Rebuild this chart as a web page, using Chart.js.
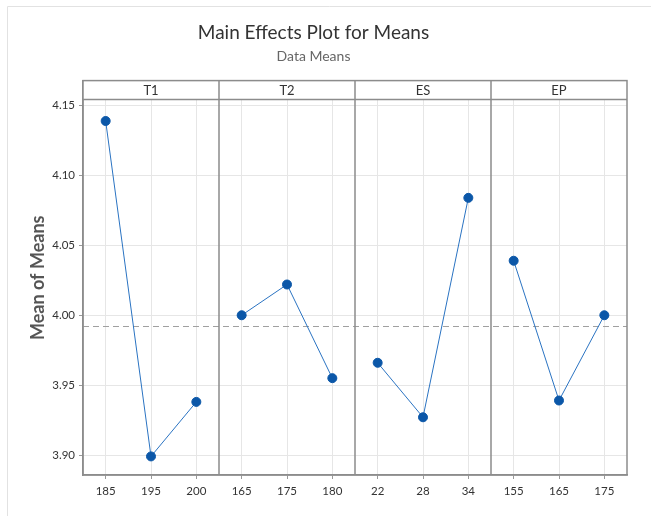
<!DOCTYPE html>
<html>
<head>
<meta charset="utf-8">
<script src="https://cdn.jsdelivr.net/npm/chart.js@4.4.1/dist/chart.umd.min.js"></script>
<style>
  html, body { margin: 0; padding: 0; background: #fff; }
  #wrap { width: 651px; height: 516px; }
</style>
</head>
<body>
<div id="wrap"><canvas id="effectsChart" width="651" height="516"></canvas></div>
<script>
// factors and their levels
const factorNames = ['T1', 'T2', 'ES', 'EP'];
const t1Levels = ['185', '195', '200'];
const t2Levels = ['165', '175', '180'];
const esLevels = ['22', '28', '34'];
const epLevels = ['155', '165', '175'];

// mean of means for each level
const t1Means = [4.139, 3.899, 3.938];
const t2Means = [4.000, 4.022, 3.955];
const esMeans = [3.966, 3.927, 4.084];
const epMeans = [4.039, 3.939, 4.000];

const yTickStep = 0.05;

const allLevels = [t1Levels, t2Levels, esLevels, epLevels];
const allMeans = [t1Means, t2Means, esMeans, epMeans];
const labels = allLevels.flat();
const flatMeans = allMeans.flat();
const grandMean = flatMeans.reduce((a, b) => a + b, 0) / flatMeans.length;

const FONT = 'Lato, "Liberation Sans", sans-serif';

// pad each factor's series with nulls so it sits in its own panel
const datasets = allMeans.map((means, i) => {
  const start = allLevels.slice(0, i).reduce((n, l) => n + l.length, 0);
  const data = labels.map((_, j) => (j >= start && j < start + means.length) ? means[j - start] : null);
  return {
    label: factorNames[i],
    data: data,
    borderColor: '#2a73c2',
    borderWidth: 1,
    backgroundColor: '#0b57a8',
    pointBackgroundColor: '#0b57a8',
    pointBorderColor: '#0b57a8',
    pointRadius: 4.5,
    spanGaps: false,
    tension: 0
  };
});

// panel boundaries, header strip, reference line
const panelPlugin = {
  id: 'panelPlugin',
  beforeDraw(chart) {
    const ctx = chart.ctx;
    ctx.save();
    ctx.strokeStyle = '#e2e2e2';
    ctx.lineWidth = 1;
    ctx.beginPath();
    ctx.moveTo(7.5, chart.height);
    ctx.lineTo(7.5, 6.5);
    ctx.lineTo(chart.width, 6.5);
    ctx.stroke();
    ctx.restore();
  },
  beforeDatasetsDraw(chart) {
    const ctx = chart.ctx;
    const area = chart.chartArea;
    const y = chart.scales.y;
    ctx.save();
    ctx.strokeStyle = '#a0a0a0';
    ctx.lineWidth = 1;
    ctx.setLineDash([6, 4]);
    const ym = Math.round(y.getPixelForValue(grandMean)) + 0.5;
    ctx.beginPath();
    ctx.moveTo(area.left, ym);
    ctx.lineTo(area.right, ym);
    ctx.stroke();
    ctx.restore();
  },
  afterDraw(chart) {
    const ctx = chart.ctx;
    const area = chart.chartArea;
    const x = chart.scales.x;
    const headerH = 19;
    ctx.save();
    // header strip
    ctx.fillStyle = '#fff';
    ctx.fillRect(area.left, area.top, area.right - area.left, headerH);
    ctx.strokeStyle = '#8c8c8c';
    ctx.lineWidth = 1.5;
    ctx.strokeRect(area.left, area.top, area.right - area.left, area.bottom - area.top);
    ctx.beginPath();
    ctx.moveTo(area.left, area.top + headerH);
    ctx.lineTo(area.right, area.top + headerH);
    let idx = 0;
    allLevels.forEach((lv, i) => {
      if (i > 0) {
        const bx = x.getPixelForValue(idx - 0.5);
        ctx.moveTo(bx, area.top);
        ctx.lineTo(bx, area.bottom);
      }
      idx += lv.length;
    });
    ctx.stroke();
    // factor names
    ctx.fillStyle = '#333';
    ctx.font = '13px ' + FONT;
    ctx.textAlign = 'center';
    ctx.textBaseline = 'middle';
    idx = 0;
    allLevels.forEach((lv, i) => {
      const cx = x.getPixelForValue(idx + (lv.length - 1) / 2);
      ctx.fillText(factorNames[i], cx, area.top + headerH / 2 + 1);
      idx += lv.length;
    });
    ctx.restore();
  }
};

const ctx = document.getElementById('effectsChart').getContext('2d');
new Chart(ctx, {
  type: 'line',
  data: { labels: labels, datasets: datasets },
  plugins: [panelPlugin],
  options: {
    responsive: false,
    animation: false,
    layout: { padding: { top: 6, right: 24, bottom: 0, left: 0 } },
    plugins: {
      legend: { display: false },
      tooltip: { enabled: false },
      title: {
        display: true,
        text: 'Main Effects Plot for Means',
        color: '#333',
        font: { family: FONT, size: 19, weight: 'normal' },
        padding: { top: 15, bottom: 4 }
      },
      subtitle: {
        display: true,
        text: 'Data Means',
        color: '#666',
        font: { family: FONT, size: 14, weight: 'normal' },
        padding: { top: 0, bottom: 16 }
      }
    },
    scales: {
      x: {
        type: 'category',
        offset: true,
        afterFit(scale) { scale.height = 41; },
        grid: {
          offset: false,
          color: '#e6e6e6',
          tickColor: '#999',
          tickLength: 4
        },
        border: { color: '#8c8c8c', width: 1.5 },
        ticks: {
          color: '#333',
          padding: 5,
          maxRotation: 0,
          autoSkip: false,
          font: { family: FONT, size: 11.5 }
        }
      },
      y: {
        min: 3.8857,
        max: 4.1679,
        afterFit(scale) { scale.width = 83; },
        grid: {
          color: '#e6e6e6',
          tickColor: '#999',
          tickLength: 4
        },
        border: { color: '#8c8c8c', width: 1.5 },
        ticks: {
          stepSize: yTickStep,
          includeBounds: false,
          color: '#333',
          padding: 4,
          font: { family: FONT, size: 11.5 },
          callback: v => v.toFixed(2)
        },
        title: {
          display: true,
          text: 'Mean of Means',
          color: '#555',
          font: { family: FONT, size: 18, weight: 'bold' },
          padding: { top: 27, bottom: 0 }
        }
      }
    }
  }
});
</script>
</body>
</html>
